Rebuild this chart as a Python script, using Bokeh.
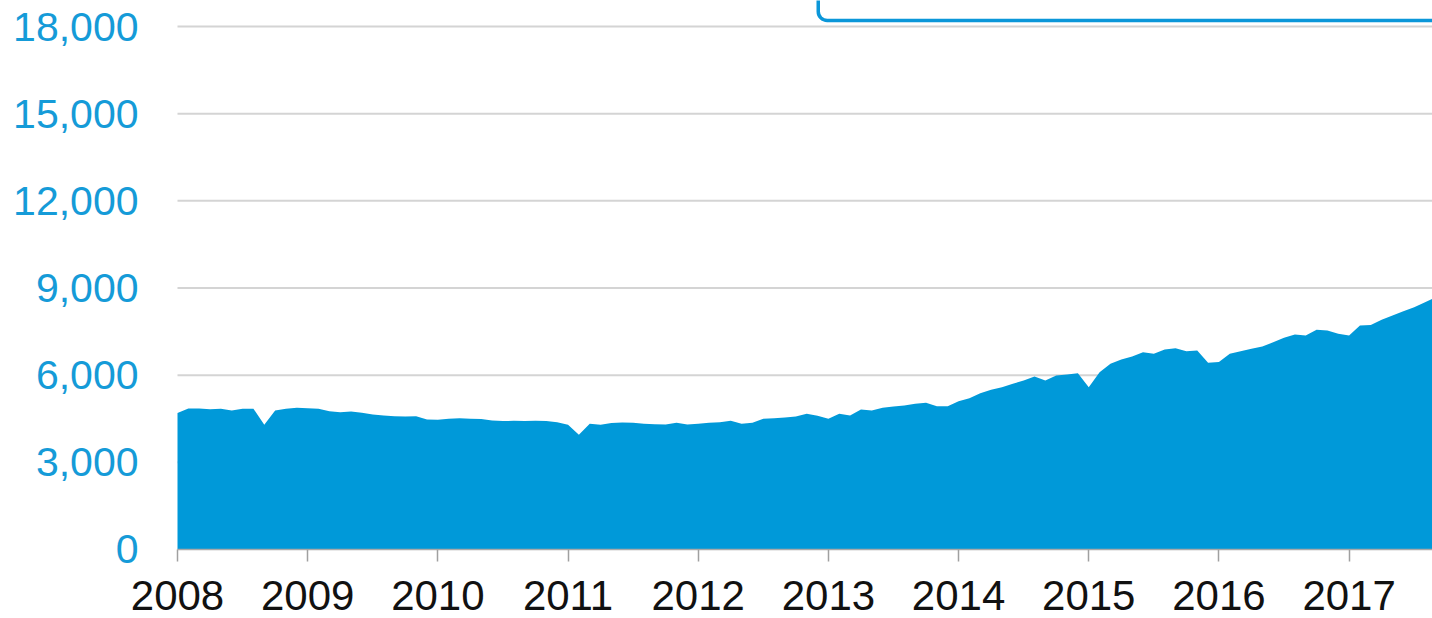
from bokeh.plotting import figure
from bokeh.models import Range1d, FixedTicker, NumeralTickFormatter, ColumnDataSource
from bokeh.embed import file_html
from bokeh.resources import INLINE

# ---- data (monthly values, Jan 2008 - Sep 2017) ----
start_year = 2008
values_2008 = [4700, 4850, 4850, 4830, 4843, 4784, 4843, 4843, 4291, 4784, 4843, 4877]
values_2009 = [4864, 4843, 4760, 4726, 4750, 4705, 4646, 4612, 4590, 4580, 4590, 4475]
values_2010 = [4465, 4500, 4520, 4500, 4490, 4440, 4420, 4430, 4420, 4430, 4420, 4383]
values_2011 = [4290, 3948, 4326, 4290, 4350, 4370, 4360, 4326, 4310, 4300, 4360, 4300]
values_2012 = [4326, 4360, 4383, 4430, 4326, 4360, 4499, 4520, 4545, 4580, 4670, 4600]
values_2013 = [4498, 4670, 4610, 4818, 4785, 4877, 4920, 4956, 5013, 5048, 4934, 4934]
values_2014 = [5105, 5208, 5380, 5497, 5587, 5703, 5817, 5955, 5817, 5989, 6023, 6069]
values_2015 = [5587, 6100, 6391, 6540, 6643, 6791, 6735, 6884, 6930, 6826, 6850, 6426]
values_2016 = [6450, 6735, 6826, 6907, 6987, 7135, 7286, 7400, 7366, 7562, 7540, 7424]
values_2017 = [7366, 7710, 7730, 7906, 8054, 8202, 8340, 8512, 8680]

year_ticks = [2008, 2009, 2010, 2011, 2012, 2013, 2014, 2015, 2016, 2017]
value_ticks = [0, 3000, 6000, 9000, 12000, 15000, 18000]

values = (values_2008 + values_2009 + values_2010 + values_2011 + values_2012 +
          values_2013 + values_2014 + values_2015 + values_2016 + values_2017)
dates = [start_year + i / 12 for i in range(len(values))]

source = ColumnDataSource(data=dict(x=dates, y=values, base=[0] * len(values)))

grid_vals = [v for v in value_ticks if v > 0]
grid_src = ColumnDataSource(data=dict(
    x0=[start_year] * len(grid_vals), x1=[2030] * len(grid_vals), y=grid_vals))

# ---- legend frame (partially visible, cropped above) ----
LEGEND_BOX_LEFT = 2012.922
LEGEND_BOX_BOTTOM = 18206

AREA_COLOR = "#0099d9"
TICK_BLUE = "#159bd8"

p = figure(width=1432, height=618, output_backend="svg", toolbar_location=None,
           x_range=Range1d(2006.6403, 2017.6406), y_range=Range1d(-2375, 18895),
           min_border_left=0, min_border_right=0, min_border_top=0, min_border_bottom=0)
p.outline_line_color = None
p.background_fill_color = "white"
p.border_fill_color = "white"
p.grid.visible = False

p.segment(x0="x0", x1="x1", y0="y", y1="y", source=grid_src,
          line_color="#d4d4d4", line_width=2)

p.varea(x="x", y1="base", y2="y", source=source, fill_color=AREA_COLOR)

p.quad(left=[LEGEND_BOX_LEFT], right=[2030], bottom=[LEGEND_BOX_BOTTOM], top=[40000],
       fill_color="white", line_color="#0b97d9", line_width=3.5, border_radius=9)

# y axis (fixed at first year)
p.yaxis.fixed_location = start_year
p.yaxis.ticker = FixedTicker(ticks=value_ticks)
p.yaxis.formatter = NumeralTickFormatter(format="0,0")
p.yaxis.axis_line_color = None
p.yaxis.major_tick_line_color = None
p.yaxis.minor_tick_line_color = None
p.yaxis.major_tick_out = 0
p.yaxis.major_tick_in = 0
p.yaxis.major_label_standoff = 39
p.yaxis.major_label_text_font = "Liberation Sans"
p.yaxis.major_label_text_font_size = "41px"
p.yaxis.major_label_text_color = TICK_BLUE

# x axis (fixed at zero)
p.xaxis.fixed_location = 0
p.xaxis.bounds = (start_year, 2030)
p.xaxis.ticker = FixedTicker(ticks=year_ticks)
p.xaxis.formatter = NumeralTickFormatter(format="0")
p.xaxis.axis_line_color = "#a8a8a8"
p.xaxis.axis_line_width = 1.5
p.xaxis.major_tick_line_color = "#a0a0a0"
p.xaxis.major_tick_line_width = 1.5
p.xaxis.major_tick_out = 12
p.xaxis.major_tick_in = 0
p.xaxis.minor_tick_line_color = None
p.xaxis.major_label_standoff = 20
p.xaxis.major_label_text_font = "Liberation Sans"
p.xaxis.major_label_text_font_size = "42px"
p.xaxis.major_label_text_color = "#111111"

open("out.html", "w").write(file_html(p, INLINE))
